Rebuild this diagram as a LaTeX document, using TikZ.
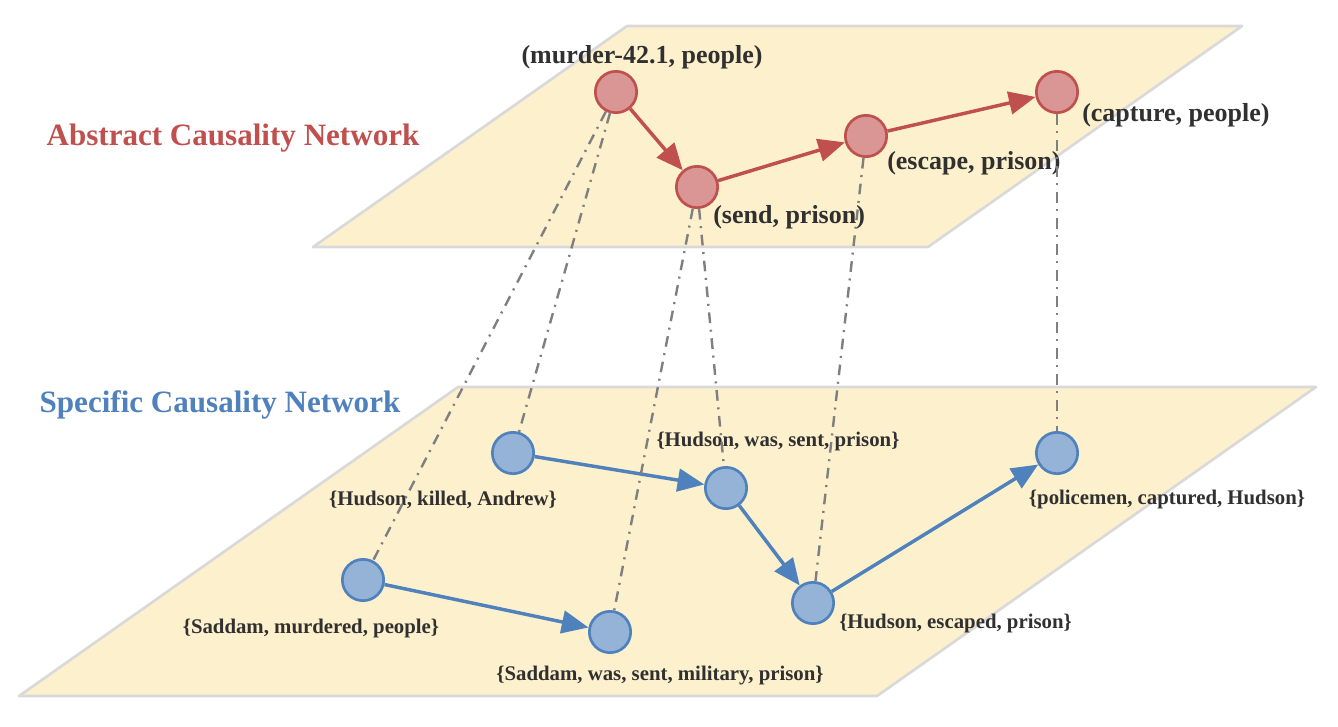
\documentclass[tikz,border=0pt]{standalone}
\usepackage{fontspec}
\setmainfont{Liberation Serif}
\usetikzlibrary{positioning}
\usetikzlibrary{arrows.meta}
\definecolor{absred}{HTML}{C0504D}
\definecolor{absfill}{HTML}{D99694}
\definecolor{specblue}{HTML}{4F81BD}
\definecolor{specfill}{HTML}{95B3D7}
\definecolor{planefill}{HTML}{FDF0CD}
\definecolor{planeedge}{HTML}{D9D9D9}
\definecolor{lblgray}{HTML}{303030}
\definecolor{mapgray}{HTML}{7F7F7F}

\begin{document}
\begin{tikzpicture}[x=0.75pt,y=-0.75pt,
  plane/.style={fill=planefill,draw=planeedge,line width=2pt,line join=round},
  abs node/.style={circle,fill=absfill,draw=absred,line width=2pt,minimum size=31pt,inner sep=0pt},
  spec node/.style={circle,fill=specfill,draw=specblue,line width=2pt,minimum size=31pt,inner sep=0pt},
  abs label/.style={text=lblgray,font=\fontsize{19.5}{23}\selectfont\bfseries,inner sep=0pt},
  spec label/.style={text=lblgray,font=\fontsize{15.6}{18}\selectfont\bfseries,inner sep=0pt},
  title/.style={font=\fontsize{23.3}{27}\selectfont\bfseries,inner sep=0pt},
  abs edge/.style={-{Triangle[length=20pt,width=17pt]},draw=absred,line width=2.6pt},
  spec edge/.style={-{Triangle[length=20pt,width=17pt]},draw=specblue,line width=2.6pt},
  map edge/.style={draw=mapgray,line width=1.8pt,dash pattern=on 8pt off 5pt on 1.5pt off 5pt}]

	\useasboundingbox (0,0) rectangle (1338,726);

	% the two planes
	\draw[plane] (627,26) -- (1242,26) -- (928,247) -- (313,247) -- cycle;
	\draw[plane] (458,387) -- (1316,387) -- (877,696) -- (19,696) -- cycle;

	\node[title,text=absred] (abstitle) at (233,138) {Abstract Causality Network};
	\node[title,text=specblue] (spectitle) at (220,405) {Specific Causality Network};

	% abstract causality network
	\node[abs node] (murder) at (616,92) {};
	\node[abs node] (send) at (697,187) {};
	\node[abs node] (escape) at (866,136) {};
	\node[abs node] (capture) at (1057,92) {};

	\node[abs label] (lmurder) at (642,57) {(murder-42.1, people)};
	\node[abs label,anchor=west] (lsend) at (713,217) {(send, prison)};
	\node[abs label,anchor=west] (lescape) at (887,163) {(escape, prison)};
	\node[abs label,anchor=west] (lcapture) at (1082,115) {(capture, people)};

	% specific causality network
	\node[spec node] (killed) at (513,453) {};
	\node[spec node] (wassent) at (726,488) {};
	\node[spec node] (murdered) at (363,580) {};
	\node[spec node] (military) at (610,632) {};
	\node[spec node] (escaped) at (813,603) {};
	\node[spec node] (captured) at (1057,453) {};

	\node[spec label] (lkilled) at (443,500) {\{Hudson, killed, Andrew\}};
	\node[spec label] (lwassent) at (778,441) {\{Hudson, was, sent, prison\}};
	\node[spec label] (lmurdered) at (311,628) {\{Saddam, murdered, people\}};
	\node[spec label] (lmilitary) at (660,676) {\{Saddam, was, sent, military, prison\}};
	\node[spec label,anchor=west] (lescaped) at (839,623) {\{Hudson, escaped, prison\}};
	\node[spec label] (lcaptured) at (1167,499) {\{policemen, captured, Hudson\}};

	\draw[abs edge] (murder) -- (send);
	\draw[abs edge] (send) -- (escape);
	\draw[abs edge] (escape) -- (capture);

	\draw[spec edge] (killed) -- (wassent);
	\draw[spec edge] (wassent) -- (escaped);
	\draw[spec edge] (murdered) -- (military);
	\draw[spec edge] (escaped) -- (captured);

	% links between the two networks
	\draw[map edge] (murder) -- (murdered);
	\draw[map edge] (murder) -- (killed);
	\draw[map edge] (send) -- (military);
	\draw[map edge] (send) -- (wassent);
	\draw[map edge] (escape) -- (escaped);
	\draw[map edge] (capture) -- (captured);
\end{tikzpicture}
\end{document}
